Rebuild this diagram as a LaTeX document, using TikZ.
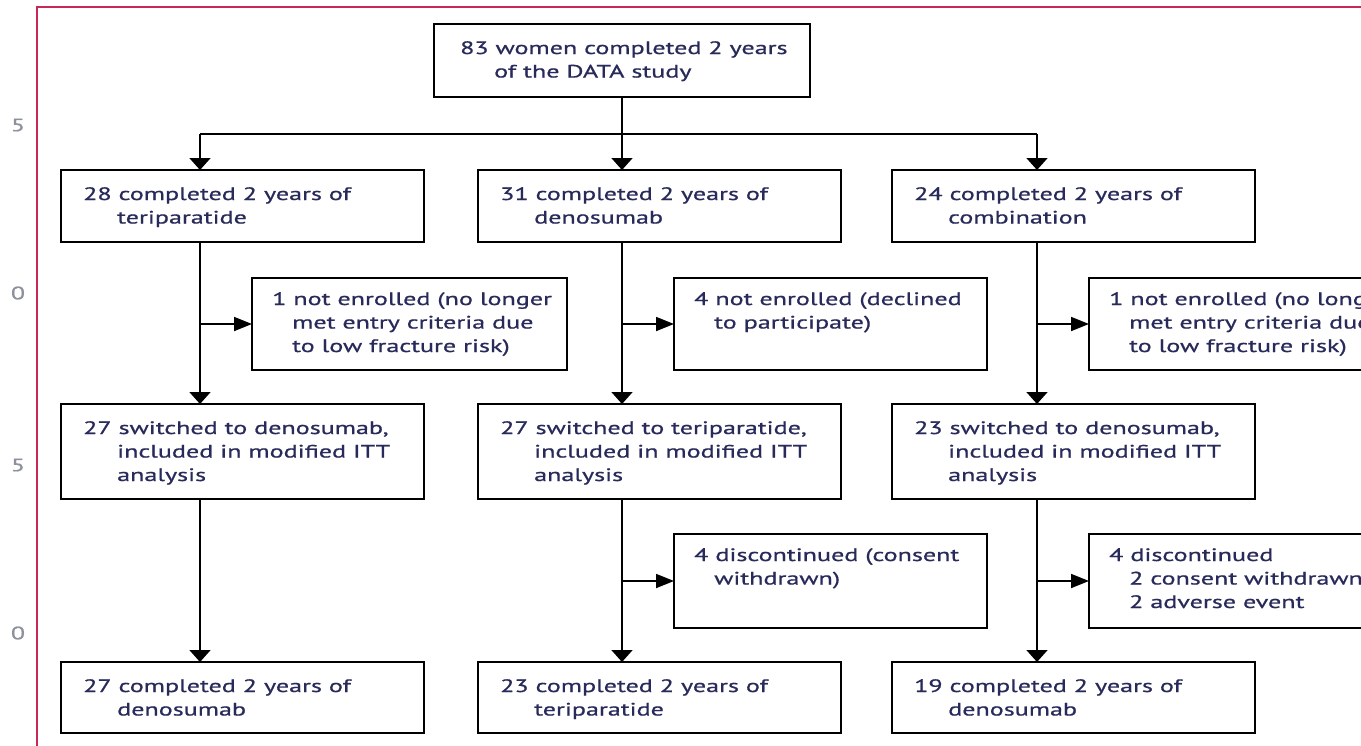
\documentclass[tikz,border=0pt]{standalone}
\usepackage{fontspec}
\setmainfont[FakeStretch=1.45, FakeBold=0.8]{PT Sans}
\usetikzlibrary{arrows.meta}
\definecolor{tinta}{RGB}{40,42,90}
\definecolor{borde}{RGB}{200,40,85}
\definecolor{margen}{RGB}{140,145,155}

\begin{document}
\begin{tikzpicture}[
  x=1pt, y=-1pt,
  caja/.style={draw=black, line width=1.8pt, anchor=north west, inner sep=0pt, outer sep=0pt},
  texto/.style={anchor=north west, inner sep=0pt, align=left, text=tinta,
    font=\fontsize{18pt}{23.5pt}\selectfont},
  linea/.style={line width=1.8pt, draw=black},
  flechaV/.style={linea, -{Triangle[width=21pt,length=12pt]}},
  flechaH/.style={linea, -{Triangle[width=14pt,length=18pt]}},
  num/.style={text=margen, font=\fontsize{18pt}{20pt}\selectfont}
]
  \useasboundingbox (0,0) rectangle (1361,745);
  \clip (0,0) rectangle (1361,745);

  % Borde de la pagina
  \draw[borde, line width=2pt] (37,760) -- (37,7) -- (1380,7);

  % Numeros de linea
  \node[num] (n1) at (18,125) {5};
  \node[num] (n2) at (18,293) {0};
  \node[num] (n3) at (18,465) {5};
  \node[num] (n4) at (18,633) {0};

  % Caja superior
  \node[caja, minimum width=376pt, minimum height=73pt] (top) at (434,24) {};
  \node[texto] (top-t) at ([xshift=26pt, yshift=-17pt]top.north west)
    {83 women completed 2 years\\\hspace*{34pt}of the DATA study};

  % Fila 2
  \node[caja, minimum width=363pt, minimum height=72pt] (b1) at (61,170) {};
  \node[caja, minimum width=363pt, minimum height=72pt] (b2) at (478,170) {};
  \node[caja, minimum width=363pt, minimum height=72pt] (b3) at (892,170) {};
  \node[texto] (b1-t) at ([xshift=22pt, yshift=-17pt]b1.north west)
    {28 completed 2 years of\\\hspace*{34pt}teriparatide};
  \node[texto] (b2-t) at ([xshift=22pt, yshift=-17pt]b2.north west)
    {31 completed 2 years of\\\hspace*{34pt}denosumab};
  \node[texto] (b3-t) at ([xshift=22pt, yshift=-17pt]b3.north west)
    {24 completed 2 years of\\\hspace*{34pt}combination};

  % Cajas laterales (no incluidas)
  \node[caja, minimum width=315pt, minimum height=92pt] (s1) at (252,278) {};
  \node[caja, minimum width=313pt, minimum height=92pt] (s2) at (674,278) {};
  \node[caja, minimum width=314pt, minimum height=92pt] (s3) at (1089,278) {};
  \node[texto] (s1-t) at ([xshift=20pt, yshift=-14pt]s1.north west)
    {1 not enrolled (no longer\\\hspace*{20pt}met entry criteria due\\\hspace*{20pt}to low fracture risk)};
  \node[texto] (s2-t) at ([xshift=20pt, yshift=-14pt]s2.north west)
    {4 not enrolled (declined\\\hspace*{20pt}to participate)};
  \node[texto] (s3-t) at ([xshift=20pt, yshift=-14pt]s3.north west)
    {1 not enrolled (no longer\\\hspace*{20pt}met entry criteria due\\\hspace*{20pt}to low fracture risk)};

  % Fila 4
  \node[caja, minimum width=363pt, minimum height=95pt] (c1) at (61,404) {};
  \node[caja, minimum width=363pt, minimum height=95pt] (c2) at (478,404) {};
  \node[caja, minimum width=363pt, minimum height=95pt] (c3) at (892,404) {};
  \node[texto] (c1-t) at ([xshift=22pt, yshift=-17pt]c1.north west)
    {27 switched to denosumab,\\\hspace*{34pt}included in modified ITT\\\hspace*{34pt}analysis};
  \node[texto] (c2-t) at ([xshift=22pt, yshift=-17pt]c2.north west)
    {27 switched to teriparatide,\\\hspace*{34pt}included in modified ITT\\\hspace*{34pt}analysis};
  \node[texto] (c3-t) at ([xshift=22pt, yshift=-17pt]c3.north west)
    {23 switched to denosumab,\\\hspace*{34pt}included in modified ITT\\\hspace*{34pt}analysis};

  % Cajas laterales (abandonos)
  \node[caja, minimum width=313pt, minimum height=94pt] (d2) at (674,534) {};
  \node[caja, minimum width=314pt, minimum height=94pt] (d3) at (1089,534) {};
  \node[texto] (d2-t) at ([xshift=20pt, yshift=-14pt]d2.north west)
    {4 discontinued (consent\\\hspace*{20pt}withdrawn)};
  \node[texto] (d3-t) at ([xshift=20pt, yshift=-14pt]d3.north west)
    {4 discontinued\\\hspace*{20pt}2 consent withdrawn\\\hspace*{20pt}2 adverse event};

  % Fila 6
  \node[caja, minimum width=363pt, minimum height=71pt] (e1) at (61,662) {};
  \node[caja, minimum width=363pt, minimum height=71pt] (e2) at (478,662) {};
  \node[caja, minimum width=363pt, minimum height=71pt] (e3) at (892,662) {};
  \node[texto] (e1-t) at ([xshift=22pt, yshift=-17pt]e1.north west)
    {27 completed 2 years of\\\hspace*{34pt}denosumab};
  \node[texto] (e2-t) at ([xshift=22pt, yshift=-17pt]e2.north west)
    {23 completed 2 years of\\\hspace*{34pt}teriparatide};
  \node[texto] (e3-t) at ([xshift=22pt, yshift=-17pt]e3.north west)
    {19 completed 2 years of\\\hspace*{34pt}denosumab};

  % Ramas
  \coordinate (k1) at (200,134);
  \coordinate (k2) at (top.south |- k1);
  \coordinate (k3) at (1037,134);
  \draw[linea] (top.south) -- (k2);
  \draw[linea] (k1) -- (k3);
  \draw[flechaV] (k1) -- (k1 |- b1.north);
  \draw[flechaV] (k2) -- (k2 |- b2.north);
  \draw[flechaV] (k3) -- (k3 |- b3.north);

  % Flechas verticales
  \draw[flechaV] (k1 |- b1.south) -- (k1 |- c1.north);
  \draw[flechaV] (k2 |- b2.south) -- (k2 |- c2.north);
  \draw[flechaV] (k3 |- b3.south) -- (k3 |- c3.north);
  \draw[flechaV] (k1 |- c1.south) -- (k1 |- e1.north);
  \draw[flechaV] (k2 |- c2.south) -- (k2 |- e2.north);
  \draw[flechaV] (k3 |- c3.south) -- (k3 |- e3.north);

  % Flechas laterales
  \draw[flechaH] (k1 |- s1.west) -- (s1.west);
  \draw[flechaH] (k2 |- s2.west) -- (s2.west);
  \draw[flechaH] (k3 |- s3.west) -- (s3.west);
  \draw[flechaH] (k2 |- d2.west) -- (d2.west);
  \draw[flechaH] (k3 |- d3.west) -- (d3.west);
\end{tikzpicture}
\end{document}
